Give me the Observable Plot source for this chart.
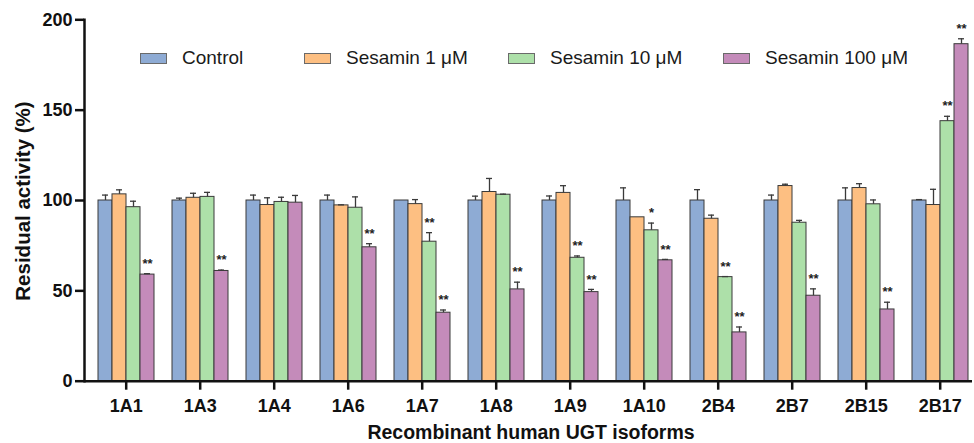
<!DOCTYPE html>
<html>
<head>
<meta charset="utf-8">
<script src="https://cdn.jsdelivr.net/npm/d3@7"></script>
<script src="https://cdn.jsdelivr.net/npm/@observablehq/plot@0.6"></script>
<style>
  body { margin: 0; background: #fff; font-family: "Liberation Sans", Arial, sans-serif; }
  #wrap { position: relative; width: 974px; height: 443px; overflow: hidden; }
  #wrap svg { position: absolute; left: 0; top: 0; }
  .leg { position: absolute; top: 47px; height: 22px; display: flex; align-items: center; white-space: nowrap; font-size: 19px; color: #1a1a1a; }
  .sw { width: 25px; height: 9px; border: 1px solid #6a6a6a; margin-right: 15px; }
  .ytitle { position: absolute; left: 23px; top: 201px; transform: translate(-50%, -50%) rotate(-90deg); font-size: 20.5px; font-weight: bold; white-space: nowrap; line-height: 1; color: #111; }
  .xtitle { position: absolute; left: 531px; top: 423px; transform: translateX(-50%); font-size: 19.5px; font-weight: bold; white-space: nowrap; line-height: 1; color: #111; }
</style>
</head>
<body>
<div id="wrap"></div>
<script>
const groups = ["1A1", "1A3", "1A4", "1A6", "1A7", "1A8", "1A9", "1A10", "2B4", "2B7", "2B15", "2B17"];
const seriesNames = ["Control", "Sesamin 1 μM", "Sesamin 10 μM", "Sesamin 100 μM"];
const colors = ["#8eabd4", "#fdbf82", "#ade0a9", "#c48bba"];

const control    = [100, 100, 100, 100, 100, 100, 100, 100, 100, 100, 100, 100];
const controlErr = [3, 1.3, 3, 3, 0, 2.4, 2.5, 7, 6, 3, 7, 0.5];
const sesamin1    = [103.4, 101.5, 97.5, 97.3, 98, 104.7, 104.2, 90.7, 89.9, 108, 106.9, 97.5];
const sesamin1Err = [2.5, 2.5, 4, 0.3, 2.5, 7.5, 4, 0, 2, 1, 2.4, 8.7];
const sesamin10    = [96.3, 102, 99.2, 96, 77.2, 103.2, 68.3, 83.5, 57.6, 87.7, 97.9, 143.9];
const sesamin10Err = [3.3, 2.5, 2.6, 6, 5, 0.3, 1, 4, 0.3, 1.3, 2.4, 2.7];
const sesamin100    = [59, 61, 98.8, 74.1, 37.9, 50.8, 49.3, 66.9, 27, 47.3, 39.7, 186.5];
const sesamin100Err = [0.5, 0.5, 4, 2, 1.5, 4, 1.5, 0.5, 3, 3.8, 4, 3];

const controlSig    = ["", "", "", "", "", "", "", "", "", "", "", ""];
const sesamin1Sig   = ["", "", "", "", "", "", "", "", "", "", "", ""];
const sesamin10Sig  = ["", "", "", "", "**", "", "**", "*", "**", "", "", "**"];
const sesamin100Sig = ["**", "**", "", "**", "**", "**", "**", "**", "**", "**", "**", "**"];

const yTicks = [0, 50, 100, 150, 200];

const values = [control, sesamin1, sesamin10, sesamin100];
const errs = [controlErr, sesamin1Err, sesamin10Err, sesamin100Err];
const sigs = [controlSig, sesamin1Sig, sesamin10Sig, sesamin100Sig];

const data = [];
groups.forEach((g, i) => {
  seriesNames.forEach((s, j) => {
    data.push({group: g, series: s, value: values[j][i], err: errs[j][i], sig: sigs[j][i]});
  });
});
const withErr = data.filter(d => d.err > 0);
const withSig = data.filter(d => d.sig);

const ink = "#3a3a3a";

const chart = Plot.plot({
  width: 974,
  height: 443,
  marginLeft: 84,
  marginRight: 2,
  marginTop: 19.3,
  marginBottom: 62.3,
  style: {fontFamily: "'Liberation Sans', Arial, sans-serif", background: "transparent", color: "#111", overflow: "visible"},
  fx: {domain: groups, paddingInner: 0, paddingOuter: 0, label: null},
  x: {domain: seriesNames, paddingInner: 0, paddingOuter: 0, insetLeft: 12.2, insetRight: 2.8, axis: null},
  y: {domain: [0, 200], label: null},
  color: {domain: seriesNames, range: colors},
  marks: [
    Plot.barY(data, {fx: "group", x: "series", y: "value", fill: "series", stroke: ink, strokeWidth: 1}),
    Plot.ruleX(withErr, {fx: "group", x: "series", y1: "value", y2: d => d.value + d.err, stroke: ink, strokeWidth: 1.3}),
    Plot.tickY(withErr, {fx: "group", x: "series", y: d => d.value + d.err, stroke: ink, strokeWidth: 1.3, insetLeft: 4, insetRight: 4}),
    Plot.text(withSig, {fx: "group", x: "series", y: d => d.value + d.err, text: "sig", dy: -10, fontSize: 13, fontWeight: "bold", fill: "#222"}),
    Plot.ruleY([0], {stroke: "#111", strokeWidth: 2.5}),
    Plot.frame({anchor: "left", facetAnchor: "left", stroke: "#111", strokeWidth: 2.5}),
    Plot.axisY({ticks: yTicks, tickSize: 9, tickPadding: 3, fontSize: 18, fontWeight: "bold", stroke: "#111", strokeWidth: 2.5, label: null}),
    Plot.axisFx({anchor: "bottom", tickSize: 9, tickPadding: 9, fontSize: 18, fontWeight: "bold", stroke: "#111", strokeWidth: 2.5, label: null, dx: 4.7})
  ]
});

const wrap = document.getElementById("wrap");
wrap.appendChild(chart);

const legendLeft = [140, 304, 508, 723];
seriesNames.forEach((s, j) => {
  const item = document.createElement("div");
  item.className = "leg";
  item.style.left = legendLeft[j] + "px";
  const sw = document.createElement("div");
  sw.className = "sw";
  sw.style.background = colors[j];
  const label = document.createElement("span");
  label.textContent = s;
  item.appendChild(sw);
  item.appendChild(label);
  wrap.appendChild(item);
});

const yt = document.createElement("div");
yt.className = "ytitle";
yt.textContent = "Residual activity (%)";
wrap.appendChild(yt);

const xt = document.createElement("div");
xt.className = "xtitle";
xt.textContent = "Recombinant human UGT isoforms";
wrap.appendChild(xt);
</script>
</body>
</html>
